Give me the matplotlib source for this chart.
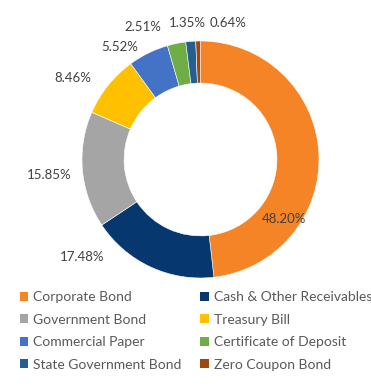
import matplotlib.pyplot as plt
from matplotlib.patches import Patch

categories = [
    "Corporate Bond",
    "Cash & Other Receivables",
    "Government Bond",
    "Treasury Bill",
    "Commercial Paper",
    "Certificate of Deposit",
    "State Government Bond",
    "Zero Coupon Bond",
]
shares = [48.20, 17.48, 15.85, 8.46, 5.52, 2.51, 1.35, 0.64]
colors = ["#F58427", "#06376E", "#A5A5A5", "#FFC000",
          "#4472C4", "#70AD47", "#255E91", "#9E480E"]

# label placement (in units of outer radius), mimicking the original layout
label_xy = [(0.705, -0.50), (-1.00, -0.82), (-1.28, -0.13), (-1.08, 0.69),
            (-0.68, 0.95), (-0.485, 1.12), (-0.11, 1.15), (0.23, 1.15)]

plt.rcParams["font.family"] = ["Lato", "DejaVu Sans"]

fig = plt.figure(figsize=(3.71, 3.90), dpi=100)
R = 118.5
lim = 1.6
side = 2 * lim * R
cx, cy = 200.5, 159.5
ax = fig.add_axes([(cx - lim * R) / 371, (390 - cy - lim * R) / 390,
                   side / 371, side / 390])

wedges, _ = ax.pie(shares, colors=colors, startangle=90, counterclock=False,
                   radius=1.0,
                   wedgeprops=dict(width=0.355, edgecolor="white", linewidth=0.4))
ax.set_xlim(-lim, lim)
ax.set_ylim(-lim, lim)
ax.axis("off")

for v, (x, y) in zip(shares, label_xy):
    ax.text(x, y, f"{v:.2f}%", ha="center", va="center",
            fontsize=9.5, color="#404040")

order = [0, 2, 4, 6, 1, 3, 5, 7]
handles = [Patch(facecolor=colors[i], edgecolor="none") for i in order]
labels = [categories[i] for i in order]
leg = fig.legend(handles, labels, ncol=2, loc="upper left",
                 bbox_to_anchor=(0.054, 0.253), frameon=False,
                 prop=dict(size=10),
                 handlelength=0.6, handleheight=0.6,
                 handletextpad=0.35, columnspacing=1.35, labelspacing=0.75,
                 borderaxespad=0, borderpad=0)
for t in leg.get_texts():
    t.set_color("#595959")

fig.savefig("out.png", dpi=100)
